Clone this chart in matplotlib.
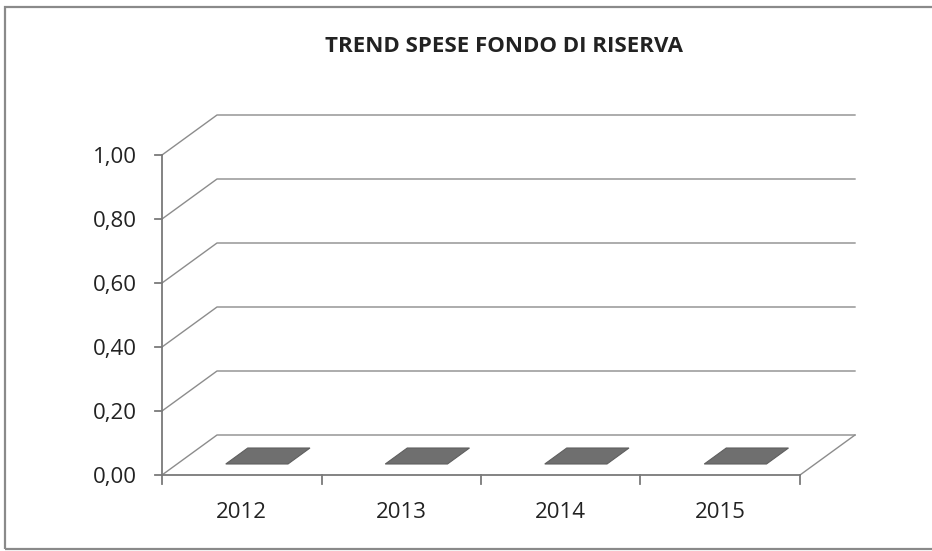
import matplotlib
matplotlib.use("Agg")
import matplotlib.pyplot as plt
from matplotlib.patches import Polygon, Rectangle
from matplotlib.transforms import Affine2D

plt.rcParams['font.family'] = ['Open Sans', 'DejaVu Sans']

# dati
anni = ['2012', '2013', '2014', '2015']
spese = [0.00, 0.00, 0.00, 0.00]
y_ticks = [0.00, 0.20, 0.40, 0.60, 0.80, 1.00]
y_labels = ['0,00', '0,20', '0,40', '0,60', '0,80', '1,00']
titolo = 'TREND SPESE FONDO DI RISERVA'

W, H = 932, 551
fig = plt.figure(figsize=(W / 100, H / 100), dpi=100)

# cornice del grafico
fig.patches.append(Rectangle((5 / W, 2 / H), 1.0, 1 - 9 / H, transform=fig.transFigure,
                             fill=False, edgecolor='#8a8a8a', linewidth=1.6))

# piano frontale: x da 162 a 800 px, y da 475 (0) a 155 (1)
ax = fig.add_axes([162 / W, 1 - 475 / H, (800 - 162) / W, (475 - 155) / H])
ax.set_xlim(0, len(anni))
ax.set_ylim(0, 1)
ax.axis('off')

# profondità: spostamento in pixel della parete di fondo
DX, DY = 55, 40
grid_col = '#8c8c8c'
axis_col = '#7a7a7a'
txt_col = '#222222'


def depth(d):
    return ax.transData + Affine2D().translate(DX * d, DY * d)


def line(xs, ys, **kw):
    ax.plot(xs, ys, transform=None, clip_on=False, **kw)


n = len(anni)
front = depth(0)
back = depth(1)

# griglia: diagonale sulla parete laterale + linea sulla parete di fondo
for v in y_ticks:
    p0 = front.transform((0, v))
    p1 = back.transform((0, v))
    p2 = back.transform((n, v))
    line([p0[0], p1[0], p2[0]], [p0[1], p1[1], p2[1]], color=grid_col, linewidth=1.0)

# bordo destro del pavimento
q0 = front.transform((n, 0))
q1 = back.transform((n, 0))
line([q0[0], q1[0]], [q0[1], q1[1]], color=grid_col, linewidth=1.0)

# assi
ax.plot([0, 0], [0, 1], color=axis_col, linewidth=1.3, clip_on=False)
ax.plot([0, n], [0, 0], color=axis_col, linewidth=1.3, clip_on=False)

# tacche asse y
for v, lab in zip(y_ticks, y_labels):
    px, py = front.transform((0, v))
    line([px - 7, px], [py, py], color=axis_col, linewidth=1.3)
    ax.text(px - 25, py - 2, lab, transform=None, ha='right', va='center',
            fontsize=16, color=txt_col)

# tacche asse x
for i in range(n + 1):
    px, py = front.transform((i, 0))
    line([px, px], [py, py - 9], color=axis_col, linewidth=1.3)

for i, lab in enumerate(anni):
    px, py = front.transform((i + 0.5, 0))
    ax.text(px, py - 37, lab, transform=None, ha='center', va='center',
            fontsize=16, color=txt_col)

# barre (valore zero: si vede solo la faccia superiore)
bw = 0.39
d0, d1 = 0.275, 0.675
for i, v in enumerate(spese):
    c = i + 0.5
    pts = [depth(d0).transform((c - bw / 2, v)),
           depth(d0).transform((c + bw / 2, v)),
           depth(d1).transform((c + bw / 2, v)),
           depth(d1).transform((c - bw / 2, v))]
    ax.add_patch(Polygon(pts, closed=True, transform=None, clip_on=False,
                         facecolor='#6f6f6f', edgecolor='#5f5f5f', linewidth=0.8))

fig.text(504 / W, 1 - 46 / H, titolo, ha='center', va='center',
         fontsize=16, fontweight='bold', color=txt_col)

fig.savefig('out.png', dpi=100)
